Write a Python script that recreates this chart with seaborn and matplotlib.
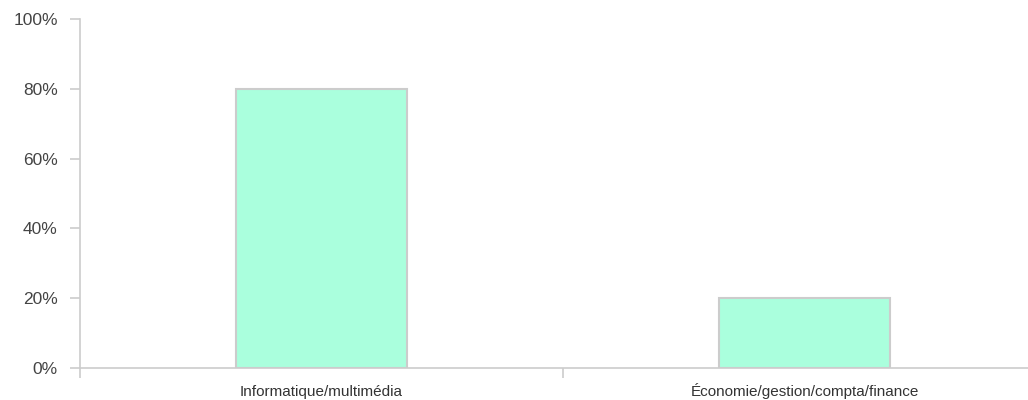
import pandas as pd
import matplotlib.pyplot as plt
import seaborn as sns

categories = ["Informatique/multimédia", "Économie/gestion/compta/finance"]
shares = [80, 20]

df = pd.DataFrame({"categorie": categories, "part": shares})

sns.set_style("white")
plt.rcParams['font.family'] = ['Liberation Sans', 'DejaVu Sans']

fig = plt.figure(figsize=(10.28, 4.0), dpi=100)
# axis runs past the right edge of the figure, like the original
ax = fig.add_axes([80 / 1028, 32 / 400, 966 / 1028, 349 / 400])

sns.barplot(data=df, x="categorie", y="part", ax=ax, color="#aaffdd",
            width=0.356, edgecolor="#cccccc", linewidth=1.5, saturation=1)

ax.set_xlim(-0.5, 1.5)
ax.set_ylim(0, 100)
ax.set_yticks([0, 20, 40, 60, 80, 100])
ax.set_yticklabels([f"{v}%" for v in [0, 20, 40, 60, 80, 100]])
ax.set_xlabel("")
ax.set_ylabel("")

for side in ["top", "right"]:
    ax.spines[side].set_visible(False)
for side in ["left", "bottom"]:
    ax.spines[side].set_color("#cccccc")
    ax.spines[side].set_linewidth(1.2)

ax.tick_params(axis="y", left=True, length=7.5, width=1.2, color="#cccccc",
               labelsize=12.5, labelcolor="#444444", pad=8.5)
ax.tick_params(axis="x", bottom=False, length=0, labelsize=11,
               labelcolor="#333333", pad=20)
for lab in ax.get_xticklabels():
    lab.set_verticalalignment("baseline")

# boundary ticks between categories
ax.set_xticks([-0.5, 0.5], minor=True)
ax.tick_params(axis="x", which="minor", bottom=True, length=7.5, width=1.2,
               color="#cccccc", direction="out")

fig.savefig("out.png", dpi=100)
